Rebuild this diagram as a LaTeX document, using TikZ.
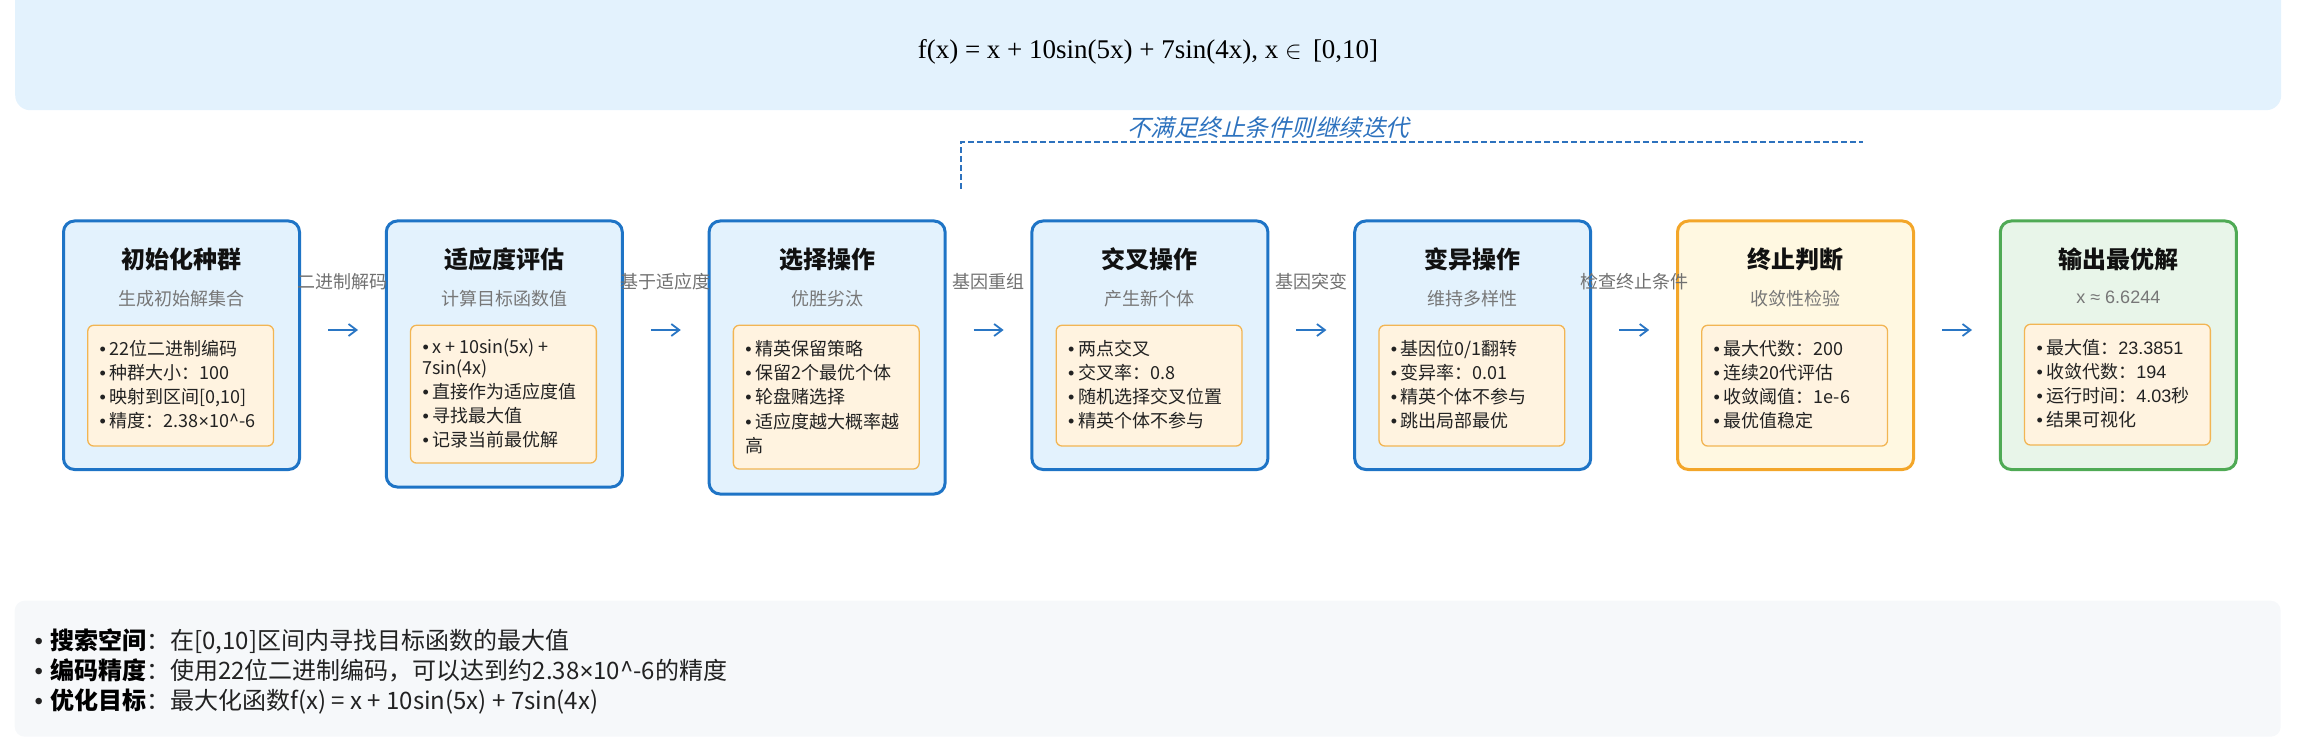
\documentclass[tikz,border=0pt]{standalone}
\usepackage{fontspec}
\setmainfont{Noto Sans CJK SC}
\newfontfamily\fserif{Liberation Serif}
\newfontfamily\farial{Liberation Sans}
\newfontfamily\fslant[FakeSlant=0.25]{Noto Sans CJK SC}
\usetikzlibrary{arrows.meta,calc}
\definecolor{bannerbg}{HTML}{E3F2FD}
\definecolor{bottombg}{HTML}{F6F8FA}
\definecolor{stageblue}{HTML}{1E74C6}
\definecolor{stagebluebg}{HTML}{E3F2FD}
\definecolor{stageorange}{HTML}{F3A629}
\definecolor{stageorangebg}{HTML}{FFF8E1}
\definecolor{stagegreen}{HTML}{4FAA55}
\definecolor{stagegreenbg}{HTML}{E8F5E9}
\definecolor{innerbg}{HTML}{FFF3E0}
\definecolor{innerborder}{HTML}{F2B553}
\definecolor{arrowcol}{HTML}{2A76C4}
\definecolor{loopcol}{HTML}{2D72BE}
\definecolor{titlecol}{HTML}{111111}
\definecolor{subcol}{HTML}{777777}
\definecolor{lblcol}{HTML}{707070}
\definecolor{itemcol}{HTML}{222222}
\newcommand\bul{{\farial •}\hspace{0.2em}}
\newcommand\bigbul{{\farial •}\hspace{0.3em}}
\newcommand\tms{{\farial ×}}
\tikzset{
  stage/.style={line width=3pt, rounded corners=11pt, anchor=north west, minimum width=236pt, inner sep=0pt},
  bluestage/.style={stage, draw=stageblue, fill=stagebluebg},
  orangestage/.style={stage, draw=stageorange, fill=stageorangebg},
  greenstage/.style={stage, draw=stagegreen, fill=stagegreenbg},
  panel/.style={draw=innerborder, line width=1.3pt, fill=innerbg, rounded corners=6pt, anchor=north west, minimum width=185.8pt, inner sep=0pt},
  ttl/.style={anchor=base, inner sep=0pt, font=\fontsize{24pt}{26pt}\selectfont\bfseries, text=titlecol},
  subt/.style={anchor=base, inner sep=0pt, font=\fontsize{18pt}{20pt}\selectfont, text=subcol},
  item/.style={anchor=base west, inner sep=0pt, font=\fontsize{18pt}{20pt}\selectfont, text=itemcol},
  lbl/.style={anchor=base, inner sep=0pt, font=\fontsize{18pt}{20pt}\selectfont, text=lblcol},
  flow/.style={draw=arrowcol, line width=1.8pt, -{Straight Barb[length=8pt,width=12pt]}},
  loopline/.style={draw=loopcol, line width=2.8pt, dash pattern=on 6pt off 3pt},
  infoline/.style={anchor=base west, inner sep=0pt, font=\fontsize{24pt}{26pt}\selectfont, text=itemcol},
}
\begin{document}
\begin{tikzpicture}[x=1pt,y=-1pt]
\useasboundingbox (0,0) rectangle (2318,754);
% banner
\begin{scope}
\clip (0,0) rectangle (2318,754);
\node[fill=bannerbg, rounded corners=15pt, anchor=north west, minimum width=2266pt, minimum height=130pt, inner sep=0pt] (banner) at (15,-20) {};
\end{scope}
\node[anchor=base, inner sep=0pt, font=\fserif\fontsize{27pt}{30pt}\selectfont, text=black] (formula) at (1148,59) {f(x) = x + 10sin(5x) + 7sin(4x), x $\in$ \,[0,10]};

% loop
\coordinate (loopS) at (961,189);
\coordinate (loopE) at (1863,142);
\draw[loopline] (loopS) |- (loopE);
\node[anchor=base, inner sep=0pt, font=\fslant\fontsize{23.5pt}{25pt}\selectfont, text=loopcol] (looptext) at (1268,137) {不满足终止条件则继续迭代};

% stages
\node[bluestage, minimum height=248.5pt] (s1) at (62,219.5) {};
\node[bluestage, minimum height=266pt] (s2) at (384.8,219.5) {};
\node[bluestage, minimum height=273pt] (s3) at (707.6,219.5) {};
\node[bluestage, minimum height=248.5pt] (s4) at (1030.4,219.5) {};
\node[bluestage, minimum height=248.5pt] (s5) at (1353.2,219.5) {};
\node[orangestage, minimum height=248.5pt] (s6) at (1676,219.5) {};
\node[greenstage, minimum height=248.5pt] (s7) at (1998.8,219.5) {};

% titles and subtitles
\node[ttl] (t1) at ($(s1.north)+(0,48.5)$) {初始化种群};
\node[subt] (u1) at ($(s1.north)+(0,85.5)$) {生成初始解集合};
\node[ttl] (t2) at ($(s2.north)+(0,48.5)$) {适应度评估};
\node[subt] (u2) at ($(s2.north)+(0,85.5)$) {计算目标函数值};
\node[ttl] (t3) at ($(s3.north)+(0,48.5)$) {选择操作};
\node[subt] (u3) at ($(s3.north)+(0,85.5)$) {优胜劣汰};
\node[ttl] (t4) at ($(s4.north)+(0,48.5)$) {交叉操作};
\node[subt] (u4) at ($(s4.north)+(0,85.5)$) {产生新个体};
\node[ttl] (t5) at ($(s5.north)+(0,48.5)$) {变异操作};
\node[subt] (u5) at ($(s5.north)+(0,85.5)$) {维持多样性};
\node[ttl] (t6) at ($(s6.north)+(0,48.5)$) {终止判断};
\node[subt] (u6) at ($(s6.north)+(0,85.5)$) {收敛性检验};
\node[ttl] (t7) at ($(s7.north)+(0,48.5)$) {输出最优解};
\node[subt, font=\farial\fontsize{18pt}{20pt}\selectfont] (u7) at ($(s7.north)+(0,83.5)$) {x ≈ 6.6244};

% inner panels
\node[panel, minimum height=120.8pt] (i1) at ($(s1.north west)+(25.1,105.1)$) {};
\node[panel, minimum height=137.8pt] (i2) at ($(s2.north west)+(25.1,105.1)$) {};
\node[panel, minimum height=143.8pt] (i3) at ($(s3.north west)+(25.1,105.1)$) {};
\node[panel, minimum height=120.8pt] (i4) at ($(s4.north west)+(25.1,105.1)$) {};
\node[panel, minimum height=120.8pt] (i5) at ($(s5.north west)+(25.1,105.1)$) {};
\node[panel, minimum height=120.8pt] (i6) at ($(s6.north west)+(25.1,105.1)$) {};
\node[panel, minimum height=120.8pt] (i7) at ($(s7.north west)+(25.1,104.1)$) {};

% items
\foreach \t [count=\k from 0] in {\bul 22位二进制编码, \bul 种群大小：100, {\bul 映射到区间[0,10]}, \bul 精度：2.38\tms 10\textasciicircum-6}
  \node[item] (a\k) at ($(i1.north west)+(12.4,30.7+24.2*\k)$) {\t};
\node[item] (b0) at ($(i2.north west)+(12.4,28.7)$) {\bul x + 10sin(5x) +};
\node[item] (b1) at ($(i2.north west)+(12.4,50.2)$) {7sin(4x)};
\node[item] (b2) at ($(i2.north west)+(12.4,74.2)$) {\bul 直接作为适应度值};
\node[item] (b3) at ($(i2.north west)+(12.4,98.2)$) {\bul 寻找最大值};
\node[item] (b4) at ($(i2.north west)+(12.4,121.7)$) {\bul 记录当前最优解};
\foreach \t [count=\k from 0] in {\bul 精英保留策略, \bul 保留2个最优个体, \bul 轮盘赌选择, \bul 适应度越大概率越, 高}
  \node[item] (c\k) at ($(i3.north west)+(12.4,30.9+24.2*\k)$) {\t};
\foreach \t [count=\k from 0] in {\bul 两点交叉, \bul 交叉率：0.8, \bul 随机选择交叉位置, \bul 精英个体不参与}
  \node[item] (d\k) at ($(i4.north west)+(12.4,30.7+24.2*\k)$) {\t};
\foreach \t [count=\k from 0] in {\bul 基因位0/1翻转, \bul 变异率：0.01, \bul 精英个体不参与, \bul 跳出局部最优}
  \node[item] (e\k) at ($(i5.north west)+(12.4,30.7+24.2*\k)$) {\t};
\foreach \t [count=\k from 0] in {\bul 最大代数：200, \bul 连续20代评估, \bul 收敛阈值：1e-6, \bul 最优值稳定}
  \node[item] (f\k) at ($(i6.north west)+(12.4,30.7+24.2*\k)$) {\t};
\foreach \t [count=\k from 0] in {\bul 最大值：{\farial 23.3851}, \bul 收敛代数：{\farial 194}, \bul 运行时间：{\farial 4.03}秒, \bul 结果可视化}
  \node[item] (g\k) at ($(i7.north west)+(12.4,31+24*\k)$) {\t};

% connectors
\foreach \a/\b in {s1/s2,s2/s3,s3/s4,s4/s5,s5/s6,s6/s7}
  \draw[flow] ($(\a.north east)+(27,110.5)$) -- ($(\b.north west)+(-26.8,110.5)$);

% connector labels
\node[lbl] (l1) at ($(s1.north east)!0.5!(s2.north west)+(0,68.5)$) {二进制解码};
\node[lbl] (l2) at ($(s2.north east)!0.5!(s3.north west)+(0,68.5)$) {基于适应度};
\node[lbl] (l3) at ($(s3.north east)!0.5!(s4.north west)+(0,68.5)$) {基因重组};
\node[lbl] (l4) at ($(s4.north east)!0.5!(s5.north west)+(0,68.5)$) {基因突变};
\node[lbl] (l5) at ($(s5.north east)!0.5!(s6.north west)+(0,68.5)$) {检查终止条件};

% bottom info panel
\node[fill=bottombg, rounded corners=10pt, anchor=north west, minimum width=2266pt, minimum height=136pt, inner sep=0pt] (info) at (14.5,600.5) {};
\node[infoline] (n1) at ($(info.north west)+(20,48.5)$) {\bigbul{\bfseries\color{black}搜索空间}：在[0,10]区间内寻找目标函数的最大值};
\node[infoline] (n2) at ($(info.north west)+(20,78.5)$) {\bigbul{\bfseries\color{black}编码精度}：使用22位二进制编码，可以达到约2.38\tms 10\textasciicircum-6的精度};
\node[infoline] (n3) at ($(info.north west)+(20,108.5)$) {\bigbul{\bfseries\color{black}优化目标}：最大化函数f(x) = x + 10sin(5x) + 7sin(4x)};
\end{tikzpicture}
\end{document}
